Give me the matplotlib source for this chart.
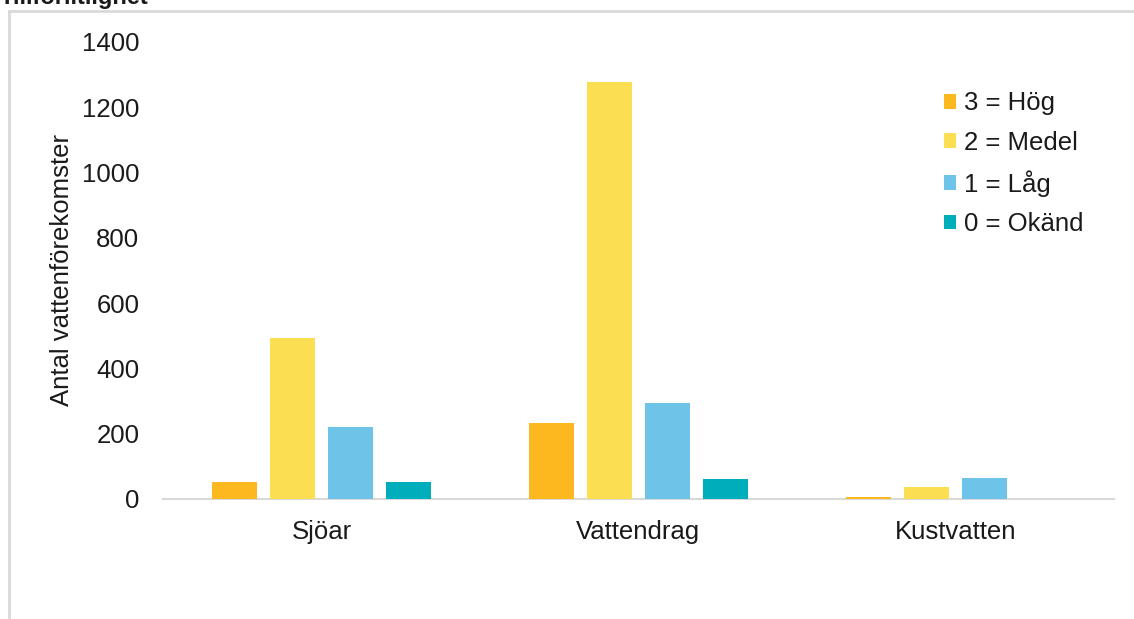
import numpy as np
import matplotlib
matplotlib.use('Agg')
import matplotlib.pyplot as plt
from matplotlib.lines import Line2D

plt.rcParams['font.family'] = ['Liberation Sans', 'DejaVu Sans']

# Data
categories = ['Sjöar', 'Vattendrag', 'Kustvatten']
series_names = ['3 = Hög', '2 = Medel', '1 = Låg', '0 = Okänd']
hog = [51, 232, 7]
medel = [492, 1278, 36]
lag = [220, 295, 63]
okand = [51, 60, 0]
colors = ['#FDB71F', '#FCDE52', '#6EC4E8', '#00ADBB']

fs = 18.5

fig = plt.figure(figsize=(11.34, 6.19), dpi=100)
ax = fig.add_axes([0.1437, 0.1939, 0.8386, 0.7387])

x = np.arange(len(categories))
width = 0.142
step = 0.183
for i, (vals, name) in enumerate(zip([hog, medel, lag, okand], series_names)):
    ax.bar(x + (i - 1.5) * step, vals, width, color=colors[i], label=name,
           edgecolor='none', zorder=3)

ax.set_xlim(-0.5, 2.5)
ax.set_ylim(0, 1400)
ax.set_yticks(range(0, 1401, 200))
ax.set_xticks(x)
ax.set_xticklabels(categories)
ax.tick_params(axis='both', length=0, labelsize=fs, colors='#1a1a1a')
ax.tick_params(axis='y', pad=17)
ax.tick_params(axis='x', pad=15)
for s in ['top', 'right', 'left']:
    ax.spines[s].set_visible(False)
ax.spines['bottom'].set_color('#d9d9d9')
ax.spines['bottom'].set_linewidth(1.5)
ax.spines['bottom'].set_zorder(2)

ax.set_ylabel('Antal vattenförekomster', fontsize=fs, color='#1a1a1a', labelpad=6)

leg = ax.legend(loc='upper left', bbox_to_anchor=(0.81, 0.914), frameon=False,
                fontsize=fs, handlelength=0.5, handleheight=0.5, handletextpad=0.3,
                labelspacing=0.6, borderaxespad=0)
for t in leg.get_texts():
    t.set_color('#1a1a1a')

# outer frame of the original picture
fig.add_artist(Line2D([9 / 1134, 9 / 1134], [0, 1 - 11 / 619], color='#d9d9d9', lw=2))
fig.add_artist(Line2D([9 / 1134, 1], [1 - 11 / 619, 1 - 11 / 619], color='#d9d9d9', lw=2))

# title cut off at the top
fig.text(0.0, 1 - 4 / 619, 'Tillförlitlighet', fontsize=17, fontweight='bold',
         va='baseline', ha='left', color='#1a1a1a')

fig.savefig('out.png', dpi=100)
